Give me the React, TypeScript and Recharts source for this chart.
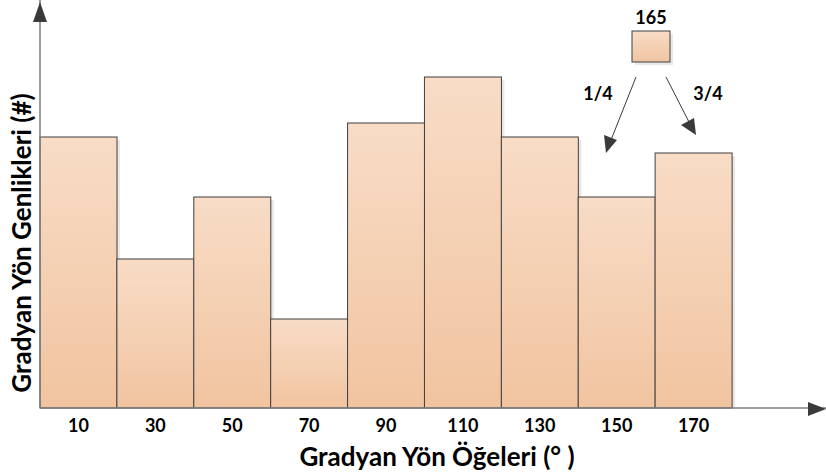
import React from 'react';
import { BarChart, Bar, XAxis, YAxis } from 'recharts';

// bin centres (degrees) and bar heights
const bins = ['10', '30', '50', '70', '90', '110', '130', '150', '170'];
const amplitudes = [271, 149, 211, 89, 285, 331, 271, 211, 255];
const yMax = 408;

const data = bins.map((b, i) => ({ bin: b, value: amplitudes[i] }));

const FONT = 'Lato, "Open Sans", sans-serif';

const ShadowBar = (props: any) => {
  const { x, y, width, height } = props;
  if (!height) return null;
  return (
    <g>
      <rect x={x + 3} y={y + 3} width={width} height={height - 3} fill="#d9d9d9" opacity={0.6} />
      <rect x={x} y={y} width={width} height={height} fill="url(#peach)" stroke="#3f3f3f" strokeWidth={1} />
    </g>
  );
};

const YTitle = (props: any) => {
  const vb = props.viewBox || { x: 0, y: 0, height: 408 };
  const cx = 21;
  const cy = vb.y + vb.height / 2 + 39;
  return (
    <text x={cx} y={cy} transform={`rotate(-90, ${cx}, ${cy})`} textAnchor="middle" dominantBaseline="central"
      fontFamily={FONT} fontWeight="bold" fontSize={26} fill="#000">
      Gradyan Yön Genlikleri (#)
    </text>
  );
};

const Overlay = () => (
  <svg width={826} height={476} style={{ position: 'absolute', left: 0, top: 0, pointerEvents: 'none' }}>
    <defs>
      <linearGradient id="peach2" x1="0" y1="0" x2="0" y2="1">
        <stop offset="0%" stopColor="#f8dcc6" />
        <stop offset="100%" stopColor="#f1c4a0" />
      </linearGradient>
    </defs>
    {/* axis arrow heads */}
    <polygon points="40,2 33,22 47,22" fill="#3a3a3a" />
    <polygon points="826,409 808,402 808,416" fill="#3a3a3a" />
    {/* legend box for 165 */}
    <text x={651} y={17} textAnchor="middle" dominantBaseline="central" fontFamily={FONT} fontWeight="bold" fontSize={18}>165</text>
    <rect x={635} y={34} width={38} height={31} fill="#d9d9d9" opacity={0.6} />
    <rect x={632} y={31} width={38} height={31} fill="url(#peach2)" stroke="#3f3f3f" strokeWidth={1} />
    <line x1={636} y1={77} x2={611} y2={140} stroke="#3a3a3a" strokeWidth={1} />
    <polygon points="606,153 604,135 617,140" fill="#3a3a3a" />
    <line x1={666} y1={77} x2={689} y2={122} stroke="#3a3a3a" strokeWidth={1} />
    <polygon points="696,135 681,125 694,118" fill="#3a3a3a" />
    <text x={598} y={93} textAnchor="middle" dominantBaseline="central" fontFamily={FONT} fontWeight="bold" fontSize={18}>1/4</text>
    <text x={708} y={93} textAnchor="middle" dominantBaseline="central" fontFamily={FONT} fontWeight="bold" fontSize={18}>3/4</text>
  </svg>
);

export default function App() {
  return (
    <div style={{ position: 'absolute', left: 0, top: 0, width: 826, height: 476, background: '#fff' }}>
      <BarChart width={826} height={476} data={data} barCategoryGap={0}
        margin={{ top: 0, right: 0, left: 0, bottom: 0 }}>
        <defs>
          <linearGradient id="peach" x1="0" y1="0" x2="0" y2="1">
            <stop offset="0%" stopColor="#f8dcc6" />
            <stop offset="100%" stopColor="#f1c4a0" />
          </linearGradient>
        </defs>
        <XAxis dataKey="bin" height={68} padding={{ left: 0, right: 94 }} tickLine={false}
          axisLine={{ stroke: '#7f7f7f', strokeWidth: 1.5 }} tickMargin={5} interval={0}
          tick={{ fill: '#000', fontFamily: FONT, fontWeight: 'bold', fontSize: 18 }}
          label={{ value: 'Gradyan Yön Öğeleri (° )', position: 'insideBottom', offset: 10, dx: 4,
            style: { fill: '#000', fontFamily: FONT, fontWeight: 'bold', fontSize: 26 } }} />
        <YAxis width={40} domain={[0, yMax]} tick={false} tickLine={false}
          axisLine={{ stroke: '#7f7f7f', strokeWidth: 1.5 }} label={<YTitle />} />
        <Bar dataKey="value" shape={<ShadowBar />} isAnimationActive={false} />
      </BarChart>
      <Overlay />
    </div>
  );
}
